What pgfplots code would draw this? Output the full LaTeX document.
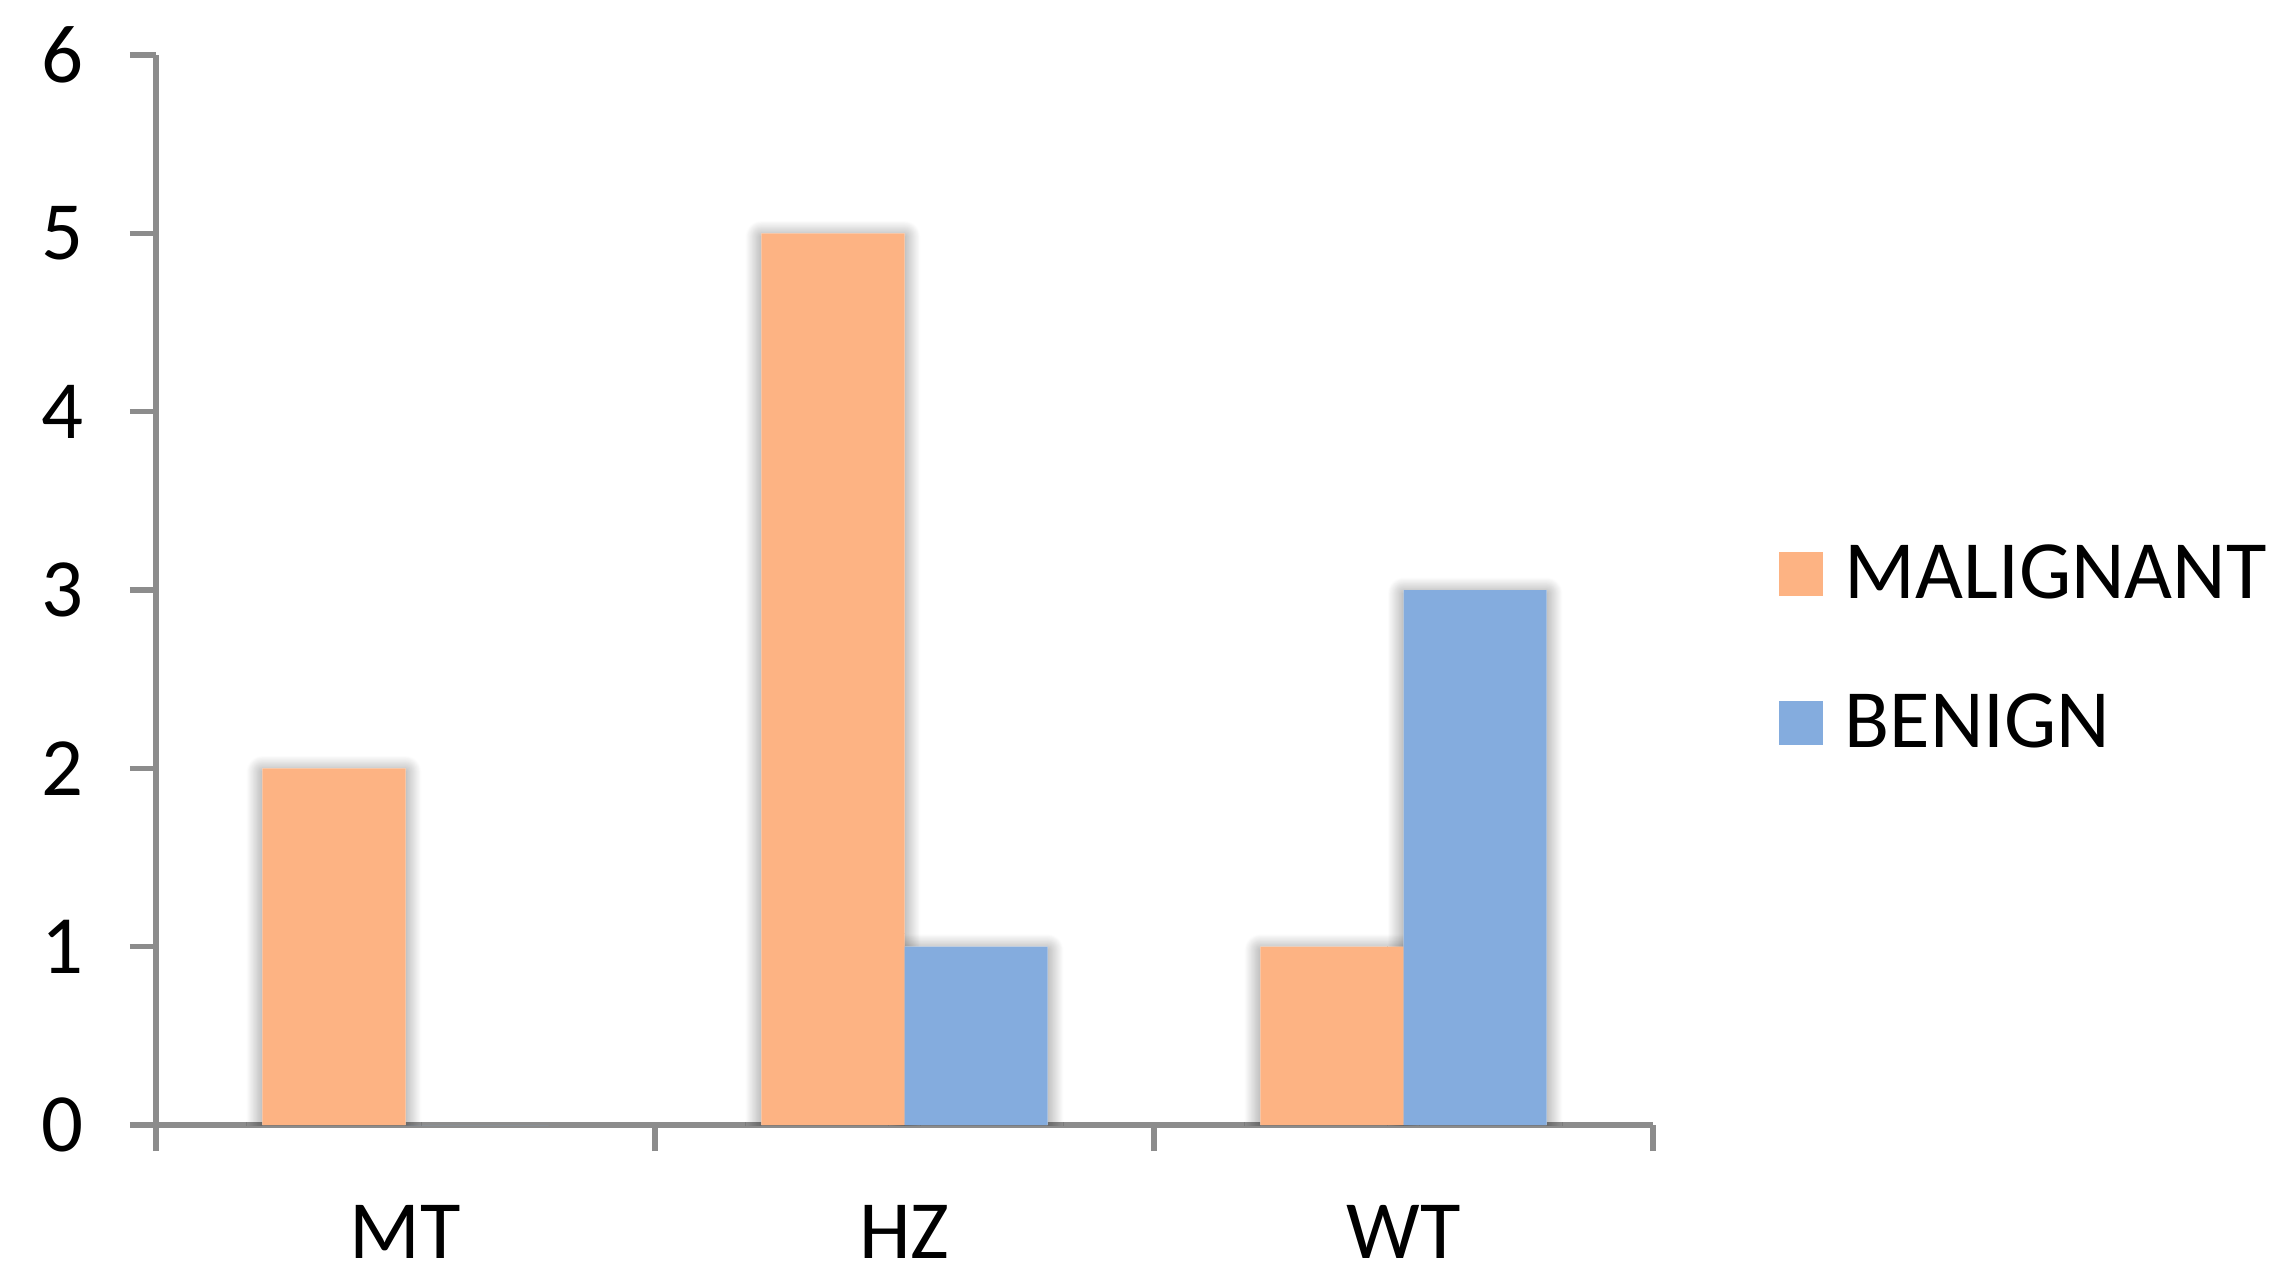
\documentclass[border=0pt]{standalone}
\usepackage{fontspec}
\setmainfont{Carlito}
\usepackage{pgfplots}
\pgfplotsset{compat=1.18}
\usetikzlibrary{shadows.blur}
\definecolor{malig}{RGB}{253,179,131}
\definecolor{benign}{RGB}{132,172,222}
\definecolor{axgray}{RGB}{140,140,140}
\begin{document}
\fontsize{20.7}{25}\selectfont
\begin{tikzpicture}[font=\fontsize{20.7}{25}\selectfont]
\useasboundingbox (-39pt,-40.25pt) rectangle (533.25pt,281.25pt);
\begin{axis}[
  scale only axis, width=374.25pt, height=267.5pt,
  xmin=-0.5, xmax=2.5, ymin=0, ymax=6,
  axis x line*=bottom, axis y line*=left,
  axis line style={draw=axgray, line width=1.3pt, -},
  /pgf/number format/assume math mode=true,
  ytick={0,1,2,3,4,5,6},
  xtick={-0.5,0.5,1.5,2.5}, xticklabels={},
  extra x ticks={0,1,2}, extra x tick labels={MT,HZ,WT},
  extra x tick style={major tick length=0pt, xticklabel style={yshift=-13pt}},
  tick align=outside, major tick length=6.5pt,
  tick style={draw=axgray, line width=1.3pt},
  yticklabel style={xshift=-4.5pt},
  legend style={at={(1.0835,0.4415)}, anchor=west, draw=none, fill=none,
    inner sep=0pt, row sep=16.7pt},
  legend cell align=left,
]
% soft shadows drawn beneath all bars
\addplot[ybar, bar width=0.287, bar shift=-0.1435, fill=white, draw=none, forget plot,
  blur shadow={shadow xshift=0pt, shadow yshift=-0.8pt, shadow blur radius=4pt, shadow blur steps=30, shadow opacity=50}]
  coordinates {(0,2) (1,5) (2,1)};
\addplot[ybar, bar width=0.287, bar shift=0.1435, fill=white, draw=none, forget plot,
  blur shadow={shadow xshift=0pt, shadow yshift=-0.8pt, shadow blur radius=4pt, shadow blur steps=30, shadow opacity=50}]
  coordinates {(1,1) (2,3)};
\addplot[ybar, bar width=0.287, bar shift=-0.1435, fill=malig, draw=none,
  legend image code/.code={\fill[malig] (0pt,-4.4pt) rectangle (11pt,6.6pt); \path (14.5pt,0pt);}]
  coordinates {(0,2) (1,5) (2,1)};
\addlegendentry{MALIGNANT}
\addplot[ybar, bar width=0.287, bar shift=0.1435, fill=benign, draw=none,
  legend image code/.code={\fill[benign] (0pt,-4.4pt) rectangle (11pt,6.6pt); \path (14.5pt,0pt);}]
  coordinates {(0,0) (1,1) (2,3)};
\addlegendentry{BENIGN}
\end{axis}
\end{tikzpicture}
\end{document}
